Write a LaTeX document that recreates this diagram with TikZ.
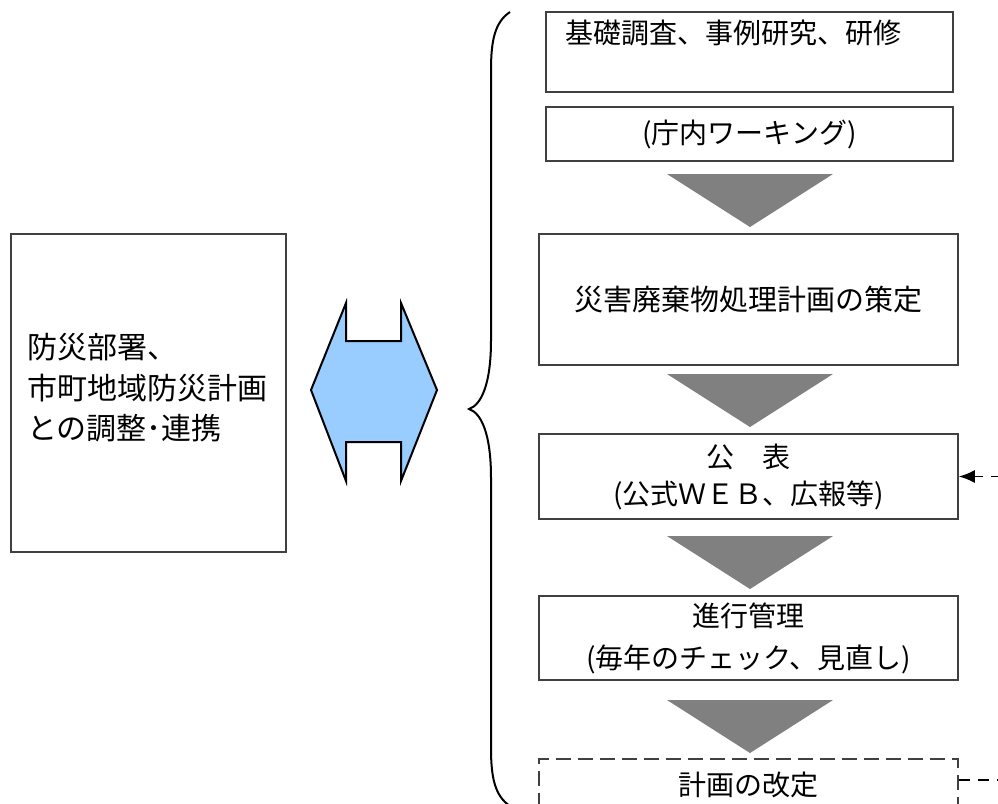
\documentclass[tikz,border=0pt]{standalone}
\usepackage{fontspec}
\setmainfont{Noto Sans CJK JP}
\usetikzlibrary{arrows.meta}
\definecolor{boxline}{HTML}{404040}
\definecolor{trigray}{HTML}{808080}
\definecolor{arrowblue}{HTML}{99CCFF}
\tikzset{
  stepbox/.style={draw=boxline, line width=1.6pt, fill=white, inner sep=0pt, align=center,
    font=\fontsize{28}{39}\selectfont},
  dashbox/.style={stepbox, dash pattern=on 15pt off 7pt},
  downtri/.style={fill=trigray, draw=none},
  bluearrow/.style={fill=arrowblue, draw=black, line width=2pt, line join=miter},
  bracestyle/.style={draw=black, line width=2pt},
  feedback/.style={draw=black, line width=1.6pt, dash pattern=on 11pt off 8pt,
    -{Latex[length=16pt,width=13pt]}},
  plaintext/.style={inner sep=0pt, font=\fontsize{28}{39}\selectfont}
}
\begin{document}
\begin{tikzpicture}[x=1pt,y=-1pt]
\useasboundingbox (0,0) rectangle (998,803);
\clip (0,0) rectangle (998,803);
\fill[white] (0,0) rectangle (998,803);

% left box
\node[stepbox, minimum width=275pt, minimum height=318pt] (left) at (148.5,393) {};
\node[plaintext, anchor=west, align=left, font=\fontsize{30}{40.5}\selectfont] (lefttext) at (27,388)
  {防災部署、\\市町地域防災計画\\との調整･連携};

% double arrow
\path[bluearrow] (346,303) -- (346,341) -- (401,341) -- (401,303) -- (437,390)
  -- (401,481) -- (401,442) -- (346,442) -- (346,481) -- (311,390) -- cycle;

% brace
\draw[bracestyle] (510,12) .. controls (495,22) and (491,40) .. (491,70)
  -- (491,340) .. controls (491,385) and (481,405) .. (469,409)
  .. controls (481,413) and (491,433) .. (491,478)
  -- (491,748) .. controls (491,778) and (495,796) .. (510,806);

% right column boxes
\node[stepbox, minimum width=407pt, minimum height=80pt] (b1) at (749.5,52) {};
\node[plaintext, anchor=west] (b1text) at (565,33) {基礎調査、事例研究、研修};
\node[stepbox, minimum width=407pt, minimum height=54pt] (b2) at (749.5,134) {(庁内ワーキング)};
\node[stepbox, minimum width=419pt, minimum height=131pt, font=\fontsize{29}{39}\selectfont] (b3) at (748.5,299.5) {災害廃棄物処理計画の策定};
\node[stepbox, minimum width=419pt, minimum height=85pt, font=\fontsize{28}{37}\selectfont] (b4) at (748.5,476.5)
  {公　表\\(公式ＷＥＢ、広報等)};
\node[stepbox, minimum width=419pt, minimum height=84pt, font=\fontsize{28}{42}\selectfont] (b5) at (748.5,638)
  {進行管理\\(毎年のチェック、見直し)};
\node[dashbox, minimum width=419pt, minimum height=52pt] (b6) at (748.5,785) {計画の改定};

% down triangles
\path[downtri] (667,174) -- (833,174) -- (750,227) -- cycle;
\path[downtri] (667,374) -- (833,374) -- (750,427) -- cycle;
\path[downtri] (667,536) -- (833,536) -- (750,589) -- cycle;
\path[downtri] (667,700) -- (833,700) -- (750,753) -- cycle;

% feedback connector
\draw[feedback] ([yshift=5pt]b6.east) -- ++(60,0) |- (b4.east);
\end{tikzpicture}
\end{document}
